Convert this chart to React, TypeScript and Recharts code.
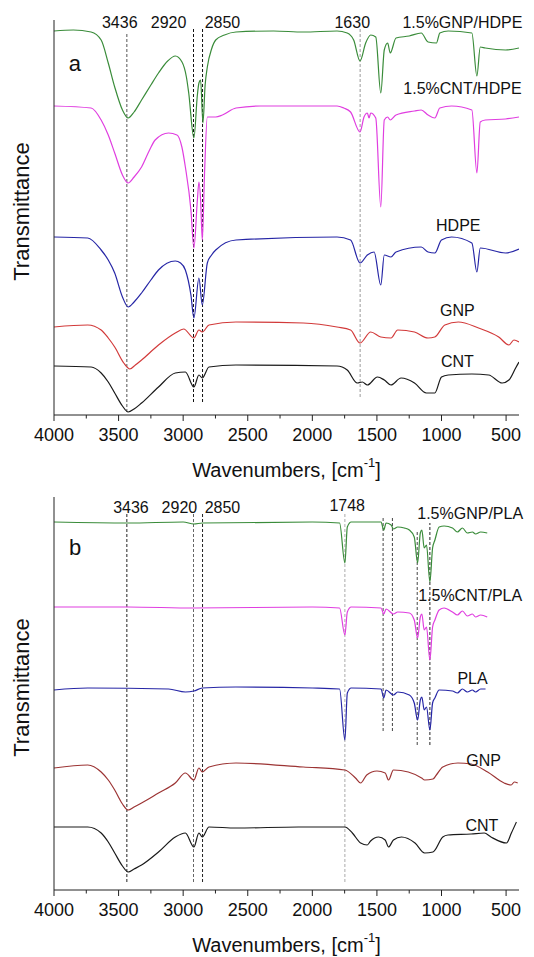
import { LineChart, Line, XAxis, YAxis, ReferenceLine, ReferenceDot } from "recharts";

const FONT = "'Liberation Sans', Arial, sans-serif";

type Pt = [number, number];

// wavenumber axis
const xDomain = [400, 4000];
const xTicks = [4000, 3750, 3500, 3250, 3000, 2750, 2500, 2250, 2000, 1750, 1500, 1250, 1000, 750, 500];

// ---- panel a (HDPE), transmittance in arbitrary units (offset stack) ----
const gnpHdpe: Pt[] = [
  [4000, 384], [3850, 385], [3713, 383], [3635, 375], [3580, 352], [3530, 328], [3470, 305], [3426, 297],
  [3380, 303], [3322, 315], [3250, 330], [3191, 342], [3120, 354], [3061, 359], [3009, 353], [2975, 338],
  [2957, 322], [2917, 277], [2890, 320], [2878, 332], [2865, 335], [2847, 292], [2830, 330], [2813, 348],
  [2780, 366], [2748, 375], [2680, 380], [2591, 383], [2300, 384], [2070, 383], [1809, 384], [1730, 382],
  [1680, 375], [1631, 354], [1587, 372], [1548, 380], [1509, 378], [1470, 322], [1443, 365], [1417, 372],
  [1397, 362], [1352, 377], [1250, 379], [1157, 382], [1104, 373], [1039, 372], [1013, 382], [948, 384],
  [765, 382], [726, 339], [700, 368], [661, 367], [504, 365], [400, 367],
];
const cntHdpe: Pt[] = [
  [4000, 309], [3713, 307], [3635, 295], [3580, 280], [3530, 262], [3470, 240], [3426, 232], [3380, 238],
  [3322, 248], [3260, 265], [3217, 275], [3113, 282], [3048, 280], [3010, 268], [2983, 248], [2940, 205],
  [2917, 167], [2890, 215], [2878, 233], [2865, 215], [2852, 175], [2835, 240], [2813, 298], [2748, 298],
  [2696, 300], [2591, 307], [2400, 309], [1809, 309], [1757, 307], [1704, 303], [1631, 283], [1600, 298],
  [1574, 302], [1561, 297], [1548, 302], [1509, 297], [1470, 208], [1443, 295], [1417, 298], [1397, 295],
  [1352, 300], [1209, 304], [1157, 305], [1104, 300], [1052, 297], [1013, 307], [922, 309], [765, 305],
  [726, 242], [700, 293], [661, 295], [504, 296], [400, 298],
];
const hdpe: Pt[] = [
  [4000, 178], [3739, 177], [3635, 165], [3580, 155], [3530, 142], [3470, 118], [3426, 108], [3380, 113],
  [3322, 122], [3250, 135], [3191, 145], [3061, 154], [3020, 152], [2983, 145], [2940, 120], [2917, 97],
  [2878, 137], [2852, 110], [2813, 152], [2780, 160], [2748, 165], [2591, 175], [1809, 178], [1704, 175],
  [1631, 152], [1574, 160], [1522, 163], [1470, 130], [1443, 160], [1391, 158], [1352, 163], [1157, 168],
  [1104, 163], [1052, 162], [1000, 175], [922, 178], [765, 172], [726, 143], [700, 167], [504, 162],
  [400, 166],
];
const gnpA: Pt[] = [
  [4000, 88], [3739, 90], [3635, 85], [3580, 77], [3530, 68], [3460, 52], [3413, 46], [3370, 50],
  [3322, 55], [3191, 70], [3061, 82], [2996, 86], [2917, 77], [2878, 85], [2852, 83], [2800, 90],
  [2591, 93], [2070, 92], [1809, 88], [1704, 85], [1631, 72], [1548, 83], [1470, 78], [1391, 77],
  [1339, 85], [1209, 83], [1104, 77], [1052, 78], [974, 90], [870, 93], [713, 87], [557, 78],
  [478, 70], [439, 75], [400, 73],
];
const cntA: Pt[] = [
  [4000, 49], [3713, 48], [3635, 42], [3580, 33], [3530, 22], [3470, 9], [3426, 3], [3380, 6],
  [3322, 12], [3191, 28], [3061, 42], [2983, 43], [2917, 28], [2878, 40], [2852, 37], [2800, 48],
  [2591, 50], [1809, 49], [1730, 45], [1652, 32], [1613, 33], [1574, 30], [1496, 38], [1443, 35],
  [1391, 30], [1313, 37], [1209, 32], [1117, 22], [1052, 22], [1000, 38], [948, 40], [765, 41],
  [635, 40], [530, 32], [478, 35], [426, 47], [400, 53],
];

// ---- panel b (PLA) ----
const gnpPla: Pt[] = [
  [4000, 368], [3426, 367], [3000, 368], [2917, 366], [2852, 367], [2000, 368], [1789, 367], [1748, 327],
  [1729, 363], [1699, 368], [1468, 368], [1447, 360], [1429, 367], [1390, 365], [1372, 361], [1339, 363],
  [1288, 362], [1249, 360], [1211, 353], [1185, 327], [1164, 357], [1152, 360], [1134, 342], [1116, 345],
  [1090, 308], [1069, 342], [1051, 350], [1018, 363], [980, 364], [915, 362], [877, 358], [838, 362],
  [800, 357], [761, 358], [736, 356], [697, 358], [646, 357],
];
const cntPla: Pt[] = [
  [4000, 283], [3426, 283], [2917, 282], [2000, 283], [1789, 282], [1748, 255], [1729, 278], [1699, 283],
  [1468, 282], [1447, 276], [1429, 281], [1372, 276], [1339, 278], [1249, 277], [1211, 270], [1185, 252],
  [1164, 273], [1152, 276], [1134, 260], [1116, 263], [1090, 230], [1069, 263], [1051, 270], [1018, 280],
  [980, 282], [915, 278], [877, 275], [838, 279], [800, 274], [761, 276], [736, 273], [697, 275], [646, 273],
];
const pla: Pt[] = [
  [4000, 200], [3739, 202], [3113, 201], [2983, 198], [2917, 199], [2852, 202], [2591, 203], [2000, 202],
  [1789, 201], [1748, 150], [1729, 197], [1699, 202], [1468, 201], [1447, 192], [1429, 200], [1372, 195],
  [1339, 198], [1249, 195], [1211, 187], [1185, 170], [1164, 190], [1152, 193], [1134, 180], [1116, 183],
  [1090, 160], [1069, 187], [1051, 192], [1018, 200], [915, 199], [877, 197], [838, 201], [800, 198],
  [761, 200], [736, 198], [697, 201], [659, 201],
];
const gnpB: Pt[] = [
  [4000, 122], [3739, 125], [3635, 118], [3580, 110], [3530, 100], [3470, 86], [3426, 80], [3380, 83],
  [3322, 87], [3191, 97], [3061, 107], [2983, 117], [2917, 110], [2878, 122], [2852, 118], [2800, 123],
  [2591, 127], [2070, 123], [1748, 120], [1666, 112], [1626, 107], [1579, 115], [1500, 119], [1436, 117],
  [1410, 110], [1372, 120], [1257, 118], [1154, 112], [1130, 110], [1066, 111], [1040, 115], [990, 123],
  [873, 127], [771, 126], [643, 118], [515, 107], [461, 105], [436, 108], [410, 107],
];
const cntB: Pt[] = [
  [4000, 63], [3739, 63], [3635, 57], [3580, 48], [3530, 37], [3470, 24], [3426, 18], [3380, 21],
  [3322, 25], [3191, 38], [3061, 53], [2983, 57], [2917, 43], [2878, 57], [2852, 53], [2800, 63],
  [2591, 62], [2107, 63], [1748, 63], [1690, 57], [1626, 47], [1575, 45], [1549, 49], [1487, 53],
  [1436, 50], [1410, 43], [1372, 50], [1310, 53], [1205, 47], [1130, 37], [1066, 38], [990, 53],
  [950, 55], [771, 56], [669, 57], [617, 53], [497, 47], [459, 57], [420, 68],
];

type Series = { pts: Pt[]; color: string };
type Mark = { wn: number; from: number; to: number; color: string };
type Note = { wn: number; t: number; text: string; size?: number };

const seriesA: Series[] = [
  { pts: gnpHdpe, color: "#3a8c3a" },
  { pts: cntHdpe, color: "#e03ee0" },
  { pts: hdpe, color: "#2626a6" },
  { pts: gnpA, color: "#d23a3a" },
  { pts: cntA, color: "#1a1a1a" },
];
const marksA: Mark[] = [
  { wn: 3436, from: 3, to: 383, color: "#555" },
  { wn: 2920, from: 13, to: 387, color: "#111" },
  { wn: 2850, from: 13, to: 387, color: "#111" },
  { wn: 1630, from: 18, to: 387, color: "#999" },
];
const notesA: Note[] = [
  { wn: 3491, t: 393, text: "3436" },
  { wn: 3113, t: 393, text: "2920" },
  { wn: 2696, t: 393, text: "2850" },
  { wn: 1691, t: 393, text: "1630" },
  { wn: 838, t: 393, text: "1.5%GNP/HDPE" },
  { wn: 838, t: 327, text: "1.5%CNT/HDPE" },
  { wn: 870, t: 190, text: "HDPE" },
  { wn: 877, t: 105, text: "GNP" },
  { wn: 877, t: 54, text: "CNT" },
  { wn: 3838, t: 352, text: "a", size: 22 },
];

const seriesB: Series[] = [
  { pts: gnpPla, color: "#3a8c3a" },
  { pts: cntPla, color: "#e03ee0" },
  { pts: pla, color: "#2626a6" },
  { pts: gnpB, color: "#9c3434" },
  { pts: cntB, color: "#1a1a1a" },
];
const marksB: Mark[] = [
  { wn: 3436, from: 8, to: 378, color: "#222" },
  { wn: 2920, from: 8, to: 378, color: "#666" },
  { wn: 2850, from: 8, to: 378, color: "#222" },
  { wn: 1748, from: 8, to: 377, color: "#aaa" },
  { wn: 1452, from: 159, to: 372, color: "#444" },
  { wn: 1380, from: 159, to: 372, color: "#444" },
  { wn: 1188, from: 145, to: 360, color: "#444" },
  { wn: 1090, from: 145, to: 367, color: "#222" },
];
const notesB: Note[] = [
  { wn: 3404, t: 383, text: "3436" },
  { wn: 3029, t: 383, text: "2920" },
  { wn: 2696, t: 383, text: "2850" },
  { wn: 1730, t: 385, text: "1748" },
  { wn: 778, t: 377, text: "1.5%GNP/PLA" },
  { wn: 778, t: 295, text: "1.5%CNT/PLA" },
  { wn: 760, t: 212, text: "PLA" },
  { wn: 674, t: 130, text: "GNP" },
  { wn: 687, t: 65, text: "CNT" },
  { wn: 3837, t: 343, text: "b", size: 22 },
];

const XTick = (props: any) => {
  const { x, y, payload } = props;
  const major = payload.value % 500 === 0;
  return (
    <g>
      <line x1={x} x2={x} y1={y} y2={y + (major ? 6 : 3.5)} stroke="#222" />
      {major && (
        <text x={x} y={y + 20} textAnchor="middle" dominantBaseline="central" fontSize={18} fontFamily={FONT} fill="#111">
          {payload.value}
        </text>
      )}
    </g>
  );
};

const xTitle = (props: any) => {
  const { viewBox } = props;
  const cx = viewBox.x + viewBox.width / 2;
  return (
    <text x={cx} y={viewBox.y + 55} textAnchor="middle" dominantBaseline="central" fontSize={20} fontFamily={FONT} fill="#111">
      Wavenumbers, [cm
      <tspan dy={-8} fontSize={13}>-1</tspan>
      <tspan dy={8}>]</tspan>
    </text>
  );
};

const yTitle = (props: any) => {
  const { viewBox } = props;
  const cx = viewBox.x + 21;
  const cy = viewBox.y + viewBox.height / 2 - 6;
  return (
    <text x={cx} y={cy} transform={`rotate(-90 ${cx} ${cy})`} textAnchor="middle" dominantBaseline="central" fontSize={22} fontFamily={FONT} fill="#111">
      Transmittance
    </text>
  );
};

function Panel({ series, marks, notes, top, height, axisH, yMax }: {
  series: Series[]; marks: Mark[]; notes: Note[]; top: number; height: number; axisH: number; yMax: number;
}) {
  return (
    <LineChart width={534} height={height} margin={{ top, right: 15, left: 0, bottom: 0 }}>
      <XAxis
        dataKey="wn"
        type="number"
        domain={xDomain}
        reversed
        allowDataOverflow
        ticks={xTicks}
        interval={0}
        tickSize={0}
        tickMargin={0}
        tickLine={false}
        tick={<XTick />}
        axisLine={{ stroke: "#222" }}
        height={axisH}
        label={{ content: xTitle }}
      />
      <YAxis
        type="number"
        domain={[0, yMax]}
        allowDataOverflow
        width={54}
        tick={false}
        tickLine={false}
        axisLine={{ stroke: "#222" }}
        label={{ content: yTitle }}
      />
      {marks.map((m, i) => (
        <ReferenceLine
          key={`m${i}`}
          segment={[{ x: m.wn, y: m.from }, { x: m.wn, y: m.to }]}
          stroke={m.color}
          strokeDasharray="3 2"
          strokeWidth={1}
          ifOverflow="visible"
        />
      ))}
      {series.map((s, i) => (
        <Line
          key={`s${i}`}
          data={s.pts.map(([wn, t]) => ({ wn, t }))}
          dataKey="t"
          type="monotoneX"
          stroke={s.color}
          strokeWidth={1.2}
          dot={false}
          isAnimationActive={false}
        />
      ))}
      {notes.map((n, i) => (
        <ReferenceDot
          key={`n${i}`}
          x={n.wn}
          y={n.t}
          r={0}
          fill="none"
          stroke="none"
          ifOverflow="visible"
          label={{ value: n.text, position: "center", fontSize: n.size ?? 16, fontFamily: FONT, fill: "#111" }}
        />
      ))}
    </LineChart>
  );
}

export default function App() {
  return (
    <div style={{ position: "absolute", left: 0, top: 0, width: 534, height: 957, background: "#fff", fontFamily: FONT }}>
      <Panel series={seriesA} marks={marksA} notes={notesA} top={20} height={484} axisH={69} yMax={395} />
      <Panel series={seriesB} marks={marksB} notes={notesB} top={13} height={473} axisH={67} yMax={393} />
    </div>
  );
}
